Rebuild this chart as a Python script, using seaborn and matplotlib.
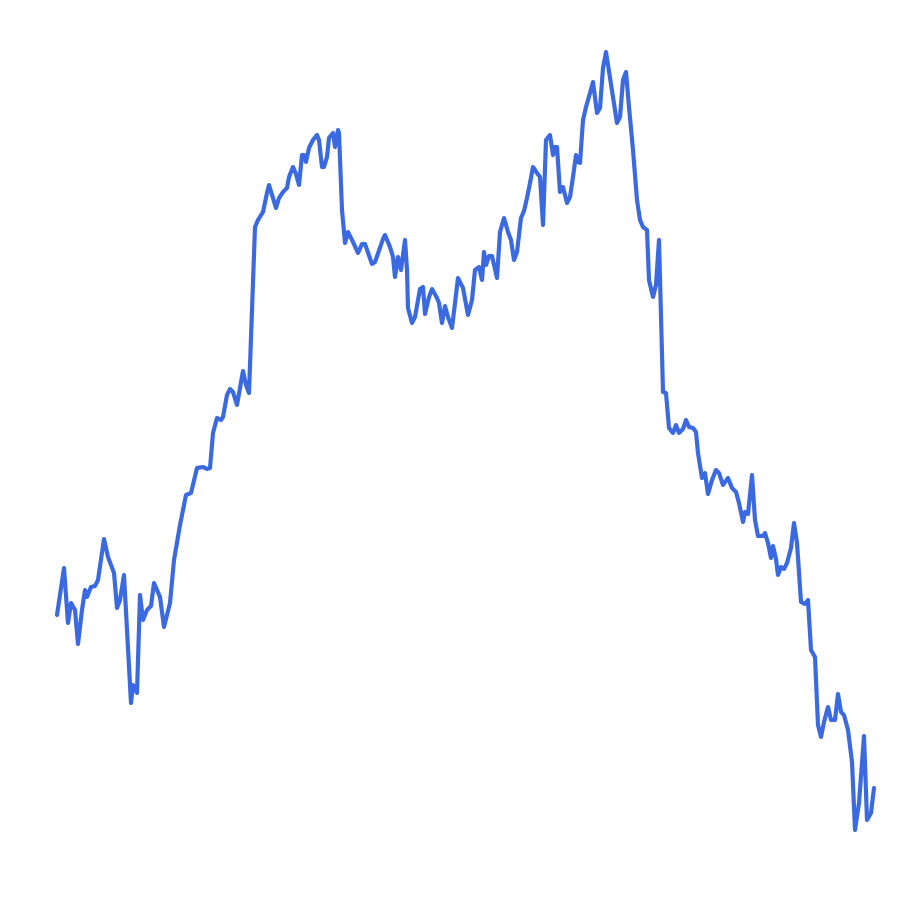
import matplotlib
matplotlib.use("Agg")
import matplotlib.pyplot as plt
import seaborn as sns
import pandas as pd

days = [
    0, 7, 11, 14, 18, 21, 25, 28, 30, 34,
    38, 41, 47, 51, 57, 60, 63, 67, 74, 76,
    80, 83, 86, 90, 94, 97, 103, 107, 113, 117,
    123, 129, 134, 140, 146, 150, 153, 156, 160, 164,
    166, 170, 173, 176, 180, 186, 189, 192, 198, 201,
    206, 210, 212, 219, 222, 226, 230, 232, 236, 239,
    242, 245, 247, 249, 252, 256, 260, 262, 265, 267,
    270, 272, 276, 278, 281, 282, 285, 288, 291, 296,
    301, 305, 308, 315, 318, 326, 328, 333, 336, 338,
    341, 344, 346, 348, 350, 351, 355, 358, 363, 366,
    368, 372, 375, 380, 382, 385, 388, 391, 395, 401,
    406, 411, 415, 418, 422, 425, 427, 429, 432, 435,
    440, 443, 447, 451, 454, 457, 460, 464, 467, 470,
    473, 476, 480, 483, 486, 489, 493, 496, 498, 500,
    503, 506, 510, 513, 516, 519, 521, 523, 526, 529,
    533, 536, 540, 543, 546, 549, 553, 556, 560, 563,
    566, 569, 572, 576, 580, 583, 586, 590, 592, 596,
    599, 602, 606, 609, 612, 616, 619, 622, 626, 629,
    632, 636, 639, 641, 645, 648, 651, 655, 659, 662,
    666, 671, 675, 679, 682, 686, 688, 691, 695, 698,
    701, 706, 708, 711, 714, 716, 719, 721, 724, 727,
    730, 734, 737, 740, 744, 748, 751, 754, 758, 761,
    764, 767, 771, 774, 778, 781, 784, 787, 791, 795,
    798, 802, 807, 810, 814, 817,
]

values = [
    38.5, 43.2, 37.7, 39.7, 39.0, 35.6, 39.0, 41.0, 40.3, 41.3,
    41.4, 42.0, 46.1, 44.3, 42.7, 39.2, 40.0, 42.5, 29.7, 31.5,
    30.7, 40.5, 38.0, 39.0, 39.4, 41.7, 40.3, 37.3, 39.7, 44.0,
    47.5, 50.5, 50.7, 53.2, 53.3, 53.1, 53.2, 56.7, 58.2, 58.0,
    58.3, 60.5, 61.1, 60.8, 59.5, 62.9, 61.5, 60.7, 77.3, 78.0,
    78.8, 80.7, 81.5, 79.2, 80.2, 80.8, 81.2, 82.3, 83.3, 82.6,
    81.5, 84.5, 84.5, 83.8, 85.2, 86.0, 86.5, 86.0, 83.3, 83.3,
    84.3, 86.2, 86.7, 85.3, 87.0, 86.7, 79.0, 75.7, 76.8, 75.8,
    74.7, 75.6, 75.6, 73.6, 73.8, 76.1, 76.5, 75.3, 74.3, 72.3,
    74.3, 73.0, 74.5, 76.0, 73.0, 69.2, 67.7, 68.3, 71.1, 71.3,
    68.6, 70.3, 71.1, 70.2, 69.7, 67.7, 69.4, 68.3, 67.2, 72.2,
    71.2, 68.5, 70.0, 73.0, 73.3, 72.0, 74.8, 73.5, 74.4, 74.4,
    72.2, 76.8, 78.2, 76.8, 76.0, 74.0, 74.8, 78.2, 78.9, 80.2,
    81.7, 83.3, 82.7, 82.3, 77.5, 86.0, 86.5, 84.5, 85.3, 85.3,
    80.8, 81.3, 79.7, 80.3, 82.3, 84.5, 83.8, 83.7, 88.0, 89.3,
    90.7, 91.8, 88.7, 89.2, 93.2, 94.8, 92.2, 90.2, 87.7, 88.3,
    92.0, 92.8, 89.3, 85.0, 80.0, 78.0, 77.3, 77.0, 72.0, 70.3,
    71.5, 76.0, 60.8, 60.7, 57.2, 56.7, 57.5, 56.7, 57.1, 58.0,
    57.3, 57.2, 56.8, 54.7, 52.2, 52.7, 50.6, 52.0, 53.0, 52.7,
    51.5, 52.2, 51.2, 50.8, 49.7, 47.8, 48.8, 48.6, 52.5, 48.0,
    46.4, 46.4, 46.7, 45.7, 44.2, 45.4, 44.1, 42.5, 43.3, 43.1,
    43.7, 45.2, 47.7, 45.7, 39.8, 39.6, 40.0, 35.0, 34.3, 27.5,
    26.3, 27.8, 29.3, 28.0, 28.0, 30.6, 28.8, 28.5, 27.0, 23.8,
    17.0, 19.7, 26.4, 18.0, 18.7, 21.2,
]

df = pd.DataFrame({"day": days, "value": values})

sns.set_theme(style="white")
fig = plt.figure(figsize=(9.06, 9.06), dpi=100)
ax = fig.add_axes([0, 0, 1, 1])
sns.lineplot(data=df, x="day", y="value", ax=ax, color="#3a69e2",
             linewidth=3.0, estimator=None, sort=False)
ax.set_xlim(-57, 849)
ax.set_ylim(9.4, 100)
ax.set_axis_off()
fig.savefig("out.png", dpi=100, facecolor="white")
